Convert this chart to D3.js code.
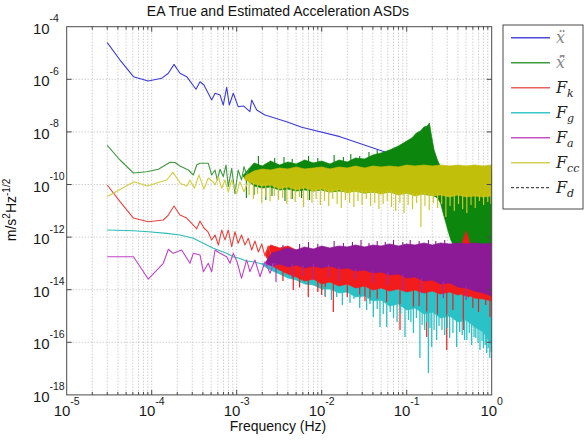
<!DOCTYPE html>
<html>
<head>
<meta charset="utf-8">
<script src="https://cdn.jsdelivr.net/npm/d3@7"></script>
<style>
	body { margin: 0; background: #fff; }
	svg { display: block; }
</style>
</head>
<body>
<div id="graph_content"></div>
<script>
// ---------------------------- data ----------------------------
const titleText = "EA True and Estimated Acceleration ASDs"
const xTickExp = [-5, -4, -3, -2, -1, 0]
const yTickExp = [-4, -6, -8, -10, -12, -14, -16, -18]

// x double-dot (true), blue
const blueF = [3.0e-5, 4.24e-5, 6.1e-5, 9.1e-5, 1.31e-4, 1.57e-4, 1.83e-4, 2.15e-4, 2.58e-4, 3.32e-4, 3.7e-4, 4.12e-4, 5.08e-4, 5.56e-4, 6.37e-4, 6.95e-4, 7.62e-4, 8.18e-4, 9.12e-4, 1.04e-3, 1.2e-3, 1.43e-3, 1.5e-3, 1.72e-3, 2.15e-3, 3.87e-3, 5.82e-3, 1.64e-2, 5.56e-2, 0.197]
const blueV = [2.47e-5, 5.4e-6, 1.26e-6, 8.6e-7, 1.09e-6, 1.69e-6, 3.7e-6, 1.69e-6, 1.26e-6, 4.17e-7, 8.1e-7, 6.07e-7, 1.63e-7, 2.94e-7, 2.53e-7, 1.05e-7, 4.97e-7, 1.05e-7, 2.94e-7, 9.1e-8, 9.7e-8, 5.9e-8, 1.63e-7, 6.8e-8, 4.4e-8, 2.44e-8, 1.5e-8, 6.6e-9, 1.72e-9, 5.05e-10]

// x-hat double-dot (estimated), green
const greenF = [3.0e-5, 4.24e-5, 6.1e-5, 8.73e-5, 1.2e-4, 1.64e-4, 1.88e-4, 2.15e-4, 2.7e-4, 3.09e-4, 3.38e-4, 3.7e-4, 4.63e-4, 5.08e-4, 5.56e-4, 5.91e-4, 6.37e-4, 6.95e-4, 7.48e-4, 7.96e-4, 8.73e-4, 9.55e-4, 1.04e-3, 1.14e-3, 1.22e-3, 1.31e-3, 1.4e-3]
const greenV = [3.1e-9, 8.55e-10, 2.74e-10, 3.07e-10, 3.78e-10, 6.98e-10, 6.9e-10, 5.05e-10, 3.56e-10, 2.3e-10, 5.5e-10, 6.4e-10, 6.4e-10, 2.3e-10, 3.56e-10, 1.48e-10, 3.8e-10, 2.0e-10, 5.51e-10, 8.2e-11, 4.1e-10, 4.5e-11, 3.56e-10, 1.48e-10, 4.8e-10, 2.3e-10, 4.1e-10]
const greenBandF = [1.2e-3, 1.6e-3, 2e-3, 2.5e-3, 3.2e-3, 4e-3, 5e-3, 6.3e-3, 8e-3, 1e-2, 1.25e-2, 1.6e-2, 2e-2, 2.5e-2, 3.2e-2, 4e-2, 5e-2, 6.3e-2, 8e-2, 0.1, 0.115, 0.13, 0.145, 0.16, 0.175, 0.185, 0.195, 0.21, 0.23, 0.25, 0.27, 0.3, 0.33, 0.36, 1.0]
const greenBandHi = [2.30e-10, 6.57e-10, 5.05e-10, 7.82e-10, 5.51e-10, 7.17e-10, 6.02e-10, 8.54e-10, 6.57e-10, 7.82e-10, 6.02e-10, 8.54e-10, 7.17e-10, 1.018e-9, 9.32e-10, 1.323e-9, 1.576e-9, 2.05e-9, 2.91e-9, 4.51e-9, 5.87e-9, 9.08e-9, 1.082e-8, 1.536e-8, 1.68e-8, 2.18e-8, 7.62e-9, 2.05e-9, 8.54e-10, 4.63e-10, 2.99e-10, 2.99e-10, 2.99e-10, 2.99e-10, 2.99e-10]
const greenBandLo = [1.93e-10, 8.77e-11, 7.36e-11, 8.03e-11, 6.18e-11, 6.74e-11, 5.66e-11, 6.18e-11, 5.66e-11, 6.18e-11, 5.19e-11, 5.66e-11, 5.19e-11, 5.66e-11, 4.75e-11, 5.19e-11, 4.75e-11, 5.19e-11, 4.35e-11, 4.75e-11, 4.35e-11, 4.75e-11, 4.35e-11, 4.35e-11, 3.99e-11, 3.99e-11, 3.99e-11, 3.65e-11, 3.07e-11, 1.98e-11, 7.55e-12, 2.22e-12, 7.76e-13, 4.59e-13, 4.59e-13]
const greenSpikeF = [1.3e-3, 1.6e-3, 2.2e-3, 2.6e-3, 3.1e-3, 3.7e-3, 4.5e-3, 5.8e-3, 7.2e-3]
const greenSpikeV = [3.07e-11, 3.99e-11, 2.57e-11, 3.65e-11, 3.35e-11, 2.36e-11, 2.81e-11, 3.07e-11, 2.57e-11]
const greenUpF = [1.8e-3, 2.8e-3, 3.6e-3, 4.5e-3, 7e-3, 9e-3, 1.4e-2, 1.8e-2, 2.2e-2, 2.8e-2, 3.6e-2, 4.5e-2]
const greenUpV = [1.212e-9, 1.018e-9, 1.11e-9, 9.32e-10, 1.212e-9, 1.018e-9, 1.323e-9, 1.11e-9, 1.44e-9, 1.212e-9, 1.72e-9, 2.05e-9]

// F_k, red
const redF = [3.0e-5, 4.24e-5, 6.1e-5, 9.1e-5, 1.37e-4, 1.57e-4, 1.83e-4, 2.15e-4, 2.58e-4, 3.09e-4, 3.38e-4, 3.7e-4, 4.12e-4, 4.6e-4, 5.08e-4, 5.56e-4, 6.08e-4, 6.66e-4, 7.28e-4, 7.96e-4, 8.73e-4, 9.55e-4, 1.04e-3, 1.14e-3, 1.25e-3, 1.37e-3, 1.5e-3, 1.64e-3, 1.8e-3, 1.97e-3, 2.15e-3, 2.35e-3, 2.6e-3]
const redV = [9.6e-11, 2.22e-11, 5.3e-12, 3.85e-12, 4.47e-12, 6.9e-12, 1.52e-11, 6.9e-12, 5.3e-12, 2.88e-12, 2.05e-12, 4.1e-12, 2.22e-12, 1.57e-12, 7.8e-13, 1.2e-12, 5.0e-13, 1.86e-12, 7.8e-13, 1.86e-12, 4.3e-13, 1.6e-12, 5.8e-13, 1.2e-12, 5.0e-13, 9.0e-13, 3.23e-13, 7.11e-13, 2.71e-13, 5.47e-13, 1.91e-13, 4.59e-13, 1.60e-13]
const redBandF = [2.2e-3, 2.5e-3, 3.2e-3, 4e-3, 5e-3, 6.3e-3, 8e-3, 1e-2, 1.25e-2, 1.6e-2, 2e-2, 2.5e-2, 3.2e-2, 4e-2, 5e-2, 6.3e-2, 8e-2, 0.1, 0.125, 0.16, 0.2, 0.25, 0.32, 0.4, 0.44, 0.47, 0.5, 0.53, 0.56, 0.63, 0.8, 1.0]
const redBandHi = [2.71e-13, 5.01e-13, 3.85e-13, 4.59e-13, 3.23e-13, 3.53e-13, 2.71e-13, 2.96e-13, 2.28e-13, 2.49e-13, 2.09e-13, 2.28e-13, 1.91e-13, 2.09e-13, 1.75e-13, 1.91e-13, 1.75e-13, 1.75e-13, 1.60e-13, 1.75e-13, 1.60e-13, 1.60e-13, 1.60e-13, 1.60e-13, 4.59e-13, 9.24e-13, 1.71e-12, 9.24e-13, 4.59e-13, 1.60e-13, 1.47e-13, 1.35e-13]
const redBandLo = [1.91e-13, 8.69e-14, 5.61e-14, 3.95e-14, 3.04e-14, 2.14e-14, 2.55e-14, 1.65e-14, 1.96e-14, 1.38e-14, 1.65e-14, 1.16e-14, 1.38e-14, 9.72e-15, 1.16e-14, 8.9e-15, 1.06e-14, 8.16e-15, 9.72e-15, 7.47e-15, 8.9e-15, 6.85e-15, 8.16e-15, 6.27e-15, 6.85e-15, 5.75e-15, 6.27e-15, 5.27e-15, 5.75e-15, 4.82e-15, 4.42e-15, 3.72e-15]
const redSpikeF = [3.5e-3, 4.63e-3, 5.5e-3, 6.95e-3, 9e-3, 1.0e-2, 1.1e-2, 1.37e-2, 2.0e-2, 2.8e-2, 3.23e-2, 3.7e-2, 4.5e-2, 5.8e-2, 8.34e-2, 0.12, 0.14, 0.172, 0.23, 0.296, 0.35, 0.463, 0.6, 0.7, 0.85, 0.955]
const redSpikeV = [2.14e-14, 9.75e-15, 1.2e-14, 5.3e-15, 8.2e-15, 6.3e-15, 5.4e-15, 1.42e-15, 5.3e-15, 4.8e-15, 3.6e-15, 3.8e-15, 4.2e-15, 3.12e-15, 2.94e-16, 1.69e-15, 2.39e-15, 1.59e-16, 1.09e-15, 5.1e-17, 1.69e-15, 2.94e-16, 2.01e-15, 1.42e-15, 2.62e-15, 9.2e-16]

// F_g, cyan
const cyanF = [3.0e-5, 6.1e-5, 9.1e-5, 1.5e-4, 2.15e-4, 3.09e-4, 4.05e-4, 5.3e-4, 7.62e-4, 9.12e-4, 1.05e-3, 1.3e-3, 1.6e-3, 2e-3]
const cyanV = [1.86e-12, 1.75e-12, 1.6e-12, 1.39e-12, 1.2e-12, 9.0e-13, 5.8e-13, 3.75e-13, 2.42e-13, 1.8e-13, 1.6e-13, 1.23e-13, 1.13e-13, 9.48e-14]
const cyanBandF = [2e-3, 2.5e-3, 3.2e-3, 4e-3, 5e-3, 6.3e-3, 8e-3, 1e-2, 1.25e-2, 1.6e-2, 2e-2, 2.5e-2, 3.2e-2, 4e-2, 5e-2, 6.3e-2, 8e-2, 0.1, 0.125, 0.16, 0.2, 0.25, 0.32, 0.4, 0.5, 0.63, 0.8, 1.0]
const cyanBandHi = [1.035e-13, 7.96e-14, 6.68e-14, 5.14e-14, 4.31e-14, 3.62e-14, 3.04e-14, 2.78e-14, 2.34e-14, 2.14e-14, 1.96e-14, 1.80e-14, 1.65e-14, 1.51e-14, 1.38e-14, 1.265e-14, 1.265e-14, 1.16e-14, 1.16e-14, 1.06e-14, 1.06e-14, 9.72e-15, 9.72e-15, 8.9e-15, 8.9e-15, 8.16e-15, 7.47e-15, 6.27e-15]
const cyanBandLo = [8.69e-14, 5.61e-14, 3.95e-14, 2.78e-14, 2.34e-14, 1.65e-14, 1.51e-14, 1.06e-14, 1.06e-14, 7.47e-15, 8.16e-15, 5.27e-15, 5.75e-15, 3.72e-15, 4.05e-15, 2.39e-15, 2.85e-15, 1.69e-15, 2.01e-15, 1.19e-15, 1.41e-15, 8.36e-16, 9.96e-16, 5.89e-16, 7.02e-16, 3.82e-16, 2.45e-16, 7.89e-17]
const cyanSpikeF = [1.1e-2, 1.3e-2, 1.5e-2, 1.75e-2, 2.15e-2, 2.4e-2, 2.8e-2, 3.38e-2, 3.7e-2, 4.05e-2, 4.5e-2, 4.85e-2, 5.3e-2, 5.82e-2, 6.4e-2, 7.0e-2, 7.7e-2, 8.5e-2, 9.55e-2, 0.105, 0.112, 0.12, 0.13, 0.143, 0.152, 0.163, 0.172, 0.18, 0.188, 0.197, 0.21, 0.225, 0.24, 0.26, 0.28, 0.3, 0.32, 0.35, 0.387, 0.42, 0.45, 0.48, 0.51, 0.545, 0.58, 0.62, 0.65, 0.69, 0.728, 0.77, 0.8, 0.84, 0.873, 0.91, 0.95, 0.98]
const cyanSpikeV = [5.75e-15, 4.05e-15, 5.27e-15, 2.62e-15, 3.12e-15, 4.42e-15, 2.01e-15, 1.69e-15, 2.85e-15, 9.16e-16, 1.85e-15, 3.82e-16, 1.19e-15, 3.82e-16, 1.41e-15, 8.36e-16, 5.89e-16, 1.19e-15, 1.59e-16, 7.02e-16, 5.89e-16, 2.26e-16, 8.36e-16, 2.53e-17, 4.55e-16, 2.92e-16, 5.89e-16, 6.8e-18, 3.48e-16, 6.63e-17, 2.92e-16, 1.22e-16, 4.15e-16, 2.92e-16, 1.89e-16, 3.48e-16, 1.45e-16, 2.26e-16, 6.63e-17, 2.45e-16, 1.89e-16, 1.22e-16, 1.22e-16, 2.26e-16, 7.89e-17, 1.59e-16, 1.45e-16, 9.4e-17, 5.07e-17, 1.12e-16, 6.04e-17, 7.89e-17, 3.92e-17, 6.04e-17, 2.53e-17, 4.28e-17]

// F_a, magenta
const magF = [3.0e-5, 6.1e-5, 9.1e-5, 1.37e-4, 1.57e-4, 1.79e-4, 2.25e-4, 2.82e-4, 3.09e-4, 3.7e-4, 4.05e-4, 4.63e-4, 5.08e-4, 5.56e-4, 6.37e-4, 7.62e-4, 8.34e-4, 9.12e-4, 1.01e-3, 1.14e-3, 1.31e-3, 1.43e-3, 1.64e-3, 1.88e-3, 2.15e-3, 2.47e-3, 2.7e-3]
const magV = [1.8e-13, 1.8e-13, 2.55e-14, 1.01e-13, 3.44e-13, 2.42e-13, 3.24e-13, 1.01e-13, 2.42e-13, 2.09e-13, 4.83e-14, 1.01e-13, 4.83e-14, 3.24e-13, 2.42e-13, 1.8e-13, 1.01e-13, 2.42e-13, 1.13e-13, 2.71e-14, 1.35e-13, 4.83e-14, 1.35e-13, 3.12e-14, 1.16e-13, 4.2e-14, 1.01e-13]
const magBandF = [2.2e-3, 2.6e-3, 3.2e-3, 4e-3, 5e-3, 6.3e-3, 8e-3, 1e-2, 1.25e-2, 1.6e-2, 2e-2, 2.5e-2, 3.2e-2, 4e-2, 5e-2, 6.3e-2, 8e-2, 0.1, 0.125, 0.16, 0.2, 0.25, 0.32, 0.4, 0.5, 0.63, 0.8, 1.0]
const magBandHi = [1.13e-13, 2.49e-13, 2.96e-13, 3.85e-13, 3.23e-13, 4.20e-13, 3.53e-13, 4.59e-13, 3.85e-13, 4.59e-13, 4.20e-13, 5.01e-13, 4.20e-13, 5.01e-13, 4.59e-13, 5.47e-13, 4.59e-13, 5.47e-13, 5.01e-13, 5.97e-13, 5.01e-13, 5.97e-13, 5.47e-13, 5.97e-13, 5.47e-13, 5.97e-13, 5.47e-13, 5.97e-13]
const magBandLo = [9.48e-14, 7.96e-14, 9.48e-14, 7.29e-14, 8.69e-14, 6.68e-14, 7.96e-14, 6.68e-14, 7.96e-14, 6.12e-14, 6.68e-14, 5.14e-14, 5.61e-14, 4.31e-14, 4.71e-14, 3.62e-14, 3.95e-14, 2.78e-14, 3.04e-14, 2.14e-14, 2.34e-14, 1.65e-14, 1.80e-14, 1.265e-14, 1.16e-14, 8.9e-15, 7.47e-15, 5.75e-15]
const magSpikeF = [2.9e-3, 4.5e-3, 6e-3, 8e-3, 1.2e-2, 1.6e-2, 2.5e-2, 4e-2, 6e-2, 9e-2, 0.15, 0.27, 0.5]
const magSpikeV = [1.96e-14, 2.79e-14, 3.32e-14, 2.34e-14, 3.04e-14, 2.14e-14, 2.55e-14, 1.8e-14, 1.51e-14, 9.72e-15, 7.47e-15, 4.82e-15, 4.05e-15]
const magUpF = [3.5e-3, 5.5e-3, 7e-3, 9e-3, 1.4e-2, 1.8e-2, 2.3e-2, 2.9e-2, 3.6e-2, 4.5e-2, 5.6e-2, 7e-2, 9e-2, 0.11, 0.14, 0.18, 0.22, 0.28]
const magUpV = [5.01e-13, 5.47e-13, 6.51e-13, 5.47e-13, 7.11e-13, 5.97e-13, 6.51e-13, 7.76e-13, 5.97e-13, 7.11e-13, 6.51e-13, 7.76e-13, 6.51e-13, 7.76e-13, 7.11e-13, 7.76e-13, 7.11e-13, 7.76e-13]

// F_cc, yellow
const yelF = [3.0e-5, 6.2e-5, 8.9e-5, 1.25e-4, 1.5e-4, 1.78e-4, 2.18e-4, 2.6e-4, 2.82e-4, 3.17e-4, 3.6e-4, 4.12e-4, 4.63e-4, 5.3e-4, 5.56e-4, 6.08e-4, 6.66e-4, 7.28e-4, 7.96e-4, 8.73e-4, 1.0e-3, 1.09e-3, 1.22e-3, 1.33e-3]
const yelV = [3.5e-11, 1.28e-10, 8.8e-11, 1.25e-10, 1.48e-10, 2.9e-10, 1.09e-10, 8.8e-11, 1.48e-10, 7.2e-11, 2.3e-10, 6.7e-11, 1.77e-10, 1.25e-10, 9.6e-11, 1.98e-10, 7.2e-11, 1.48e-10, 5.3e-11, 1.48e-10, 4.5e-11, 1.28e-10, 5.3e-11, 1.11e-10]
const yelBandF = [1.25e-3, 1.6e-3, 2e-3, 2.5e-3, 3.2e-3, 4e-3, 5e-3, 6.3e-3, 8e-3, 1e-2, 1.25e-2, 1.6e-2, 2e-2, 2.5e-2, 3.2e-2, 4e-2, 5e-2, 6.3e-2, 8e-2, 0.1, 0.125, 0.16, 0.2, 0.25, 0.32, 0.4, 0.5, 0.63, 0.8, 1.0]
const yelBandHi = [2.10e-10, 3.26e-10, 3.88e-10, 3.56e-10, 4.24e-10, 3.88e-10, 4.63e-10, 3.88e-10, 4.24e-10, 4.63e-10, 3.88e-10, 4.63e-10, 4.24e-10, 5.05e-10, 4.24e-10, 5.05e-10, 4.63e-10, 5.05e-10, 4.63e-10, 5.51e-10, 5.05e-10, 5.51e-10, 5.05e-10, 5.51e-10, 5.05e-10, 5.51e-10, 5.05e-10, 5.51e-10, 5.05e-10, 5.51e-10]
const yelBandLo = [1.48e-10, 1.045e-10, 8.77e-11, 9.57e-11, 6.74e-11, 8.03e-11, 6.18e-11, 7.36e-11, 5.66e-11, 6.74e-11, 5.19e-11, 6.18e-11, 4.75e-11, 5.66e-11, 4.75e-11, 5.19e-11, 4.35e-11, 5.19e-11, 3.99e-11, 4.75e-11, 3.65e-11, 4.35e-11, 3.65e-11, 3.99e-11, 3.35e-11, 3.99e-11, 3.35e-11, 3.65e-11, 3.35e-11, 3.65e-11]
const yelSpikeF = [1.4e-3, 1.57e-3, 1.76e-3, 1.97e-3, 2.2e-3, 2.47e-3, 2.77e-3, 3.1e-3, 3.47e-3, 3.89e-3, 4.36e-3, 4.88e-3, 5.47e-3, 6.12e-3, 6.86e-3, 7.68e-3, 8.6e-3, 9.64e-3, 1.08e-2, 1.21e-2, 1.35e-2, 1.52e-2, 1.7e-2, 1.9e-2, 2.13e-2, 2.39e-2, 2.67e-2, 2.99e-2, 3.35e-2, 3.76e-2, 4.21e-2, 4.71e-2, 5.28e-2, 5.91e-2, 6.62e-2, 7.42e-2, 8.31e-2, 9.31e-2, 0.104, 0.117, 0.131, 0.147, 0.164, 0.184, 0.206, 0.231, 0.258, 0.289, 0.324, 0.363, 0.407, 0.455, 0.51, 0.571, 0.64, 0.717, 0.803, 0.899, 0.98]
const yelSpikeV = [3.99e-11, 2.81e-11, 4.35e-11, 1.98e-11, 3.35e-11, 2.36e-11, 3.65e-11, 2.57e-11, 3.07e-11, 1.81e-11, 2.81e-11, 2.16e-11, 3.35e-11, 1.39e-11, 2.57e-11, 1.98e-11, 2.81e-11, 1.66e-11, 2.36e-11, 1.52e-11, 2.81e-11, 1.81e-11, 1.28e-11, 2.57e-11, 1.98e-11, 1.39e-11, 2.36e-11, 1.66e-11, 2.81e-11, 1.52e-11, 1.98e-11, 1.17e-11, 1.81e-11, 2.36e-11, 1.39e-11, 9.8e-12, 1.98e-11, 8.2e-12, 1.66e-11, 1.17e-11, 1.98e-11, 2.42e-12, 1.52e-11, 1.07e-11, 1.98e-11, 1.28e-11, 1.81e-11, 5.8e-12, 1.52e-11, 9.8e-12, 1.81e-11, 1.17e-11, 8.2e-12, 1.66e-11, 1.28e-11, 2.36e-11, 1.66e-11, 2.16e-11, 1.81e-11]

const legendLabels = [["x\u0308", ""], ["x\u0302\u0308", ""], ["F", "k"], ["F", "g"], ["F", "a"], ["F", "cc"], ["F", "d"]]
const legendColors = ["#4b4bd8", "#3f9a3f", "#e86262", "#38c8c8", "#c452c8", "#d6d05a", "#222"]

// ---------------------------- layout ----------------------------
const width = 588
const height = 442
const plotLeft = 66.7, plotRight = 491.7, plotTop = 26.7, plotBottom = 394.9
const axisColor = "#4a4a4a"
const gridColor = "#a8a8a8"

const svg = d3.select("#graph_content")
	.append("svg")
	.attr("xmlns", "http://www.w3.org/2000/svg")
	.attr("width", width)
	.attr("height", height)
	.attr("viewBox", `0 0 ${width} ${height}`)
	.style("background-color", "#fff")
	.style("font-family", "'Liberation Sans', Arial, sans-serif")

const x = d3.scaleLog().domain([1e-5, 1]).range([plotLeft, plotRight])
const y = d3.scaleLog().domain([1e-18, 1e-4]).range([plotBottom, plotTop])

svg.append("defs").append("clipPath").attr("id", "plot_clip")
	.append("rect")
	.attr("x", plotLeft).attr("y", plotTop)
	.attr("width", plotRight - plotLeft).attr("height", plotBottom - plotTop)

// grid
const xAllTicks = x.ticks()
const grid = svg.append("g").attr("stroke", gridColor).attr("stroke-width", 0.8).attr("stroke-dasharray", "1,2")
grid.selectAll(".gx").data(xAllTicks.filter(t => t > 1e-5 && t < 1)).join("line")
	.attr("x1", d => x(d)).attr("x2", d => x(d))
	.attr("y1", plotTop).attr("y2", plotBottom)
grid.selectAll(".gy").data(yTickExp.filter(e => e > -18 && e < -4)).join("line")
	.attr("x1", plotLeft).attr("x2", plotRight)
	.attr("y1", e => y(Math.pow(10, e))).attr("y2", e => y(Math.pow(10, e)))

const plot = svg.append("g").attr("clip-path", "url(#plot_clip)")

const line = d3.line().x(d => x(d[0])).y(d => y(d[1]))
const area = d3.area().x(d => x(d[0])).y0(d => y(d[2])).y1(d => y(d[1]))

function drawLine(F, V, color, w) {
	plot.append("path")
		.datum(d3.zip(F, V))
		.attr("d", line)
		.attr("fill", "none")
		.attr("stroke", color)
		.attr("stroke-width", w || 1)
		.attr("stroke-linejoin", "round")
}

function drawBand(F, hi, lo, color) {
	plot.append("path")
		.datum(d3.zip(F, hi, lo))
		.attr("d", area)
		.attr("fill", color)
		.attr("stroke", color)
		.attr("stroke-width", 0.7)
}

// spikes hang off one edge of their band (the lower edge, or the upper one for up-spikes)
function drawSpikes(F, V, bandF, bandEdge, color, w, up) {
	const edge = d3.scaleLog().domain(bandF).range(bandEdge.map(v => y(v))).clamp(true)
	plot.append("g")
		.selectAll("line")
		.data(d3.zip(F, V))
		.join("line")
		.attr("x1", d => x(d[0])).attr("x2", d => x(d[0]))
		.attr("y1", d => edge(d[0]) + (up ? 2 : -2))
		.attr("y2", d => y(d[1]))
		.attr("stroke", color)
		.attr("stroke-width", w)
}

drawLine(blueF, blueV, "#3c3ce0", 1.1)

drawBand(greenBandF, greenBandHi, greenBandLo, "#0c860c")
drawSpikes(greenSpikeF, greenSpikeV, greenBandF, greenBandLo, "#0c860c", 1.1)
drawSpikes(greenUpF, greenUpV, greenBandF, greenBandHi, "#0c860c", 1.1, true)
drawLine(greenF, greenV, "#3f9a3f", 1.1)

drawBand(cyanBandF, cyanBandHi, cyanBandLo, "#2ac2c6")
drawBand(redBandF, redBandHi, redBandLo, "#f21c1c")
drawSpikes(redSpikeF, redSpikeV, redBandF, redBandLo, "#f21c1c", 1.2)
drawSpikes(cyanSpikeF, cyanSpikeV, cyanBandF, cyanBandLo, "#2ac2c6", 1.3)
drawLine(cyanF, cyanV, "#2cbcbc", 1.1)
drawLine(redF, redV, "#e8443e", 1.1)

drawBand(magBandF, magBandHi, magBandLo, "#8c1a96")
drawSpikes(magSpikeF, magSpikeV, magBandF, magBandLo, "#a02ab0", 1.1)
drawSpikes(magUpF, magUpV, magBandF, magBandHi, "#8c1a96", 1.1, true)
drawLine(magF, magV, "#c043c8", 1.1)

drawBand(yelBandF, yelBandHi, yelBandLo, "#c2bf0a")
drawSpikes(yelSpikeF, yelSpikeV, yelBandF, yelBandLo, "#cbc72c", 1.2)
drawLine(yelF, yelV, "#d2ce40", 1.1)

// axes box and ticks
svg.append("rect")
	.attr("x", plotLeft).attr("y", plotTop)
	.attr("width", plotRight - plotLeft).attr("height", plotBottom - plotTop)
	.attr("fill", "none").attr("stroke", axisColor).attr("stroke-width", 1)

const ticks = svg.append("g").attr("stroke", axisColor).attr("stroke-width", 1)
xAllTicks.filter(t => t > 1e-5 && t < 1).forEach(t => {
	const major = Math.abs(Math.log10(t) - Math.round(Math.log10(t))) < 1e-6
	const len = major ? 5 : 3
	ticks.append("line").attr("x1", x(t)).attr("x2", x(t)).attr("y1", plotBottom).attr("y2", plotBottom - len)
	ticks.append("line").attr("x1", x(t)).attr("x2", x(t)).attr("y1", plotTop).attr("y2", plotTop + len)
})
yTickExp.filter(e => e > -18 && e < -4).forEach(e => {
	const py = y(Math.pow(10, e))
	ticks.append("line").attr("x1", plotLeft).attr("x2", plotLeft + 5).attr("y1", py).attr("y2", py)
	ticks.append("line").attr("x1", plotRight).attr("x2", plotRight - 5).attr("y1", py).attr("y2", py)
})

// tick labels
const yLabels = svg.append("g").attr("fill", "#1a1a1a")
yTickExp.forEach(e => {
	const py = y(Math.pow(10, e))
	yLabels.append("text").attr("x", 33).attr("y", py + 7).attr("font-size", 15).text("10")
	yLabels.append("text").attr("x", 49.5).attr("y", py - 4.5).attr("font-size", 10.5).text(String(e))
})
const xLabels = svg.append("g").attr("fill", "#1a1a1a")
xTickExp.forEach(e => {
	const t = xLabels.append("text")
		.attr("x", x(Math.pow(10, e)))
		.attr("y", 416)
		.attr("text-anchor", "middle")
		.attr("font-size", 15)
	t.append("tspan").text("10")
	t.append("tspan").attr("dy", -11).attr("font-size", 10.5).text(String(e))
})

// title and axis labels
svg.append("text")
	.attr("x", 278).attr("y", 15.5)
	.attr("text-anchor", "middle")
	.attr("font-size", 14)
	.attr("fill", "#111")
	.text(titleText)

svg.append("text")
	.attr("x", 278).attr("y", 431)
	.attr("text-anchor", "middle")
	.attr("font-size", 14)
	.attr("fill", "#111")
	.text("Frequency (Hz)")

const yl = svg.append("text")
	.attr("transform", "translate(16,210) rotate(-90)")
	.attr("text-anchor", "middle")
	.attr("font-size", 14)
	.attr("fill", "#111")
yl.append("tspan").text("m/s")
yl.append("tspan").attr("dy", -6).attr("font-size", 10).text("2")
yl.append("tspan").attr("dy", 6).text("Hz")
yl.append("tspan").attr("dy", -6).attr("font-size", 10).text("-1/2")

// legend
const legend = svg.append("g")
legend.append("rect")
	.attr("x", 503).attr("y", 25).attr("width", 80).attr("height", 184)
	.attr("fill", "#fff").attr("stroke", axisColor).attr("stroke-width", 1)
legendLabels.forEach((lab, i) => {
	const ly = 37.7 + i * 25
	legend.append("line")
		.attr("x1", 511).attr("x2", 550).attr("y1", ly).attr("y2", ly)
		.attr("stroke", legendColors[i])
		.attr("stroke-width", i === 6 ? 1 : 1.5)
		.attr("stroke-dasharray", i === 6 ? "3,2" : null)
	const t = legend.append("text")
		.attr("x", 556).attr("y", ly + 5)
		.attr("font-family", "'DejaVu Serif', 'Liberation Serif', serif")
		.attr("font-style", "italic")
		.attr("font-size", 16)
		.attr("fill", i < 2 ? "#8a8a8a" : "#222")
	t.append("tspan").text(lab[0])
	if (lab[1]) t.append("tspan").attr("dy", 4).attr("font-size", 11).text(lab[1])
})
</script>
</body>
</html>
